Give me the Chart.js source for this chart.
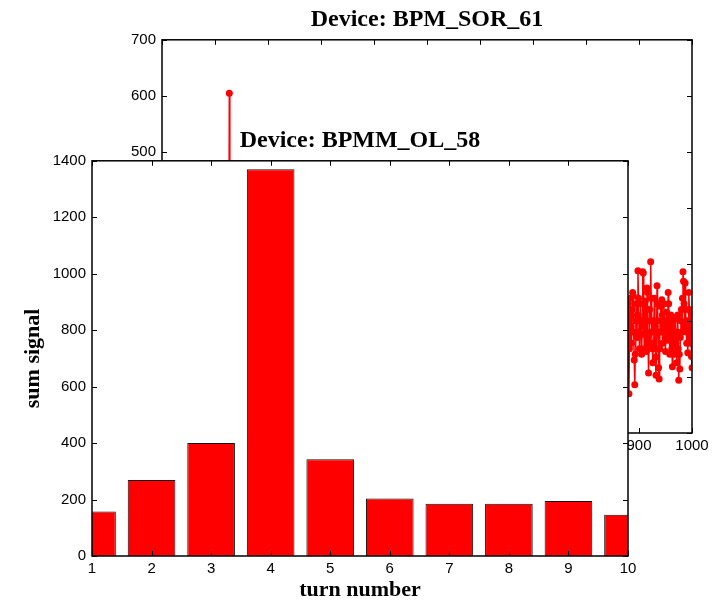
<!DOCTYPE html>
<html>
<head>
<meta charset="utf-8">
<title>sum signal</title>
<script src="https://cdn.jsdelivr.net/npm/chart.js@4.4.1/dist/chart.umd.min.js"></script>
<style>
  html, body { margin: 0; padding: 0; background: #fff; }
  #wrap { position: relative; width: 718px; height: 601px; }
  #wrap canvas { position: absolute; left: 0; top: 0; }
</style>
</head>
<body>
<div id="wrap">
  <canvas id="sor-chart" width="718" height="601"></canvas>
  <canvas id="ol-chart" width="718" height="601"></canvas>
</div>
<script>
// BPM_SOR_61: sum signal per turn (spike near turn 127 and the last turns)
var sorTurns = [126, 127, 128,
  879, 880, 881, 882, 883, 884, 885, 886, 887, 888, 889, 890,
  891, 892, 893, 894, 895, 896, 897, 898, 899, 900,
  901, 902, 903, 904, 905, 906, 907, 908, 909, 910,
  911, 912, 913, 914, 915, 916, 917, 918, 919, 920,
  921, 922, 923, 924, 925, 926, 927, 928, 929, 930,
  931, 932, 933, 934, 935, 936, 937, 938, 939, 940,
  941, 942, 943, 944, 945, 946, 947, 948, 949, 950,
  951, 952, 953, 954, 955, 956, 957, 958, 959, 960,
  961, 962, 963, 964, 965, 966, 967, 968, 969, 970,
  971, 972, 973, 974, 975, 976, 977, 978, 979, 980,
  981, 982, 983, 984, 985, 986, 987, 988, 989, 990,
  991, 992, 993, 994, 995, 996, 997, 998, 999, 1000];
var sorSignal = [230, 605, 210,
  180, 230, 70, 150, 210, 240, 190, 160, 220, 250, 245, 180,
  130, 86, 140, 200, 230, 170, 210, 289, 240, 180,
  150, 200, 230, 175, 140, 200, 287, 285, 190, 150,
  210, 235, 180, 145, 258, 250, 170, 107, 160, 220,
  200, 305, 240, 180, 150, 125, 160, 200, 240, 190,
  135, 103, 150, 262, 230, 180, 116, 96, 150, 200,
  225, 180, 237, 210, 160, 190, 230, 200, 170, 145,
  185, 215, 200, 165, 250, 230, 180, 140, 170, 210,
  190, 150, 118, 160, 200, 180, 140, 175, 205, 160,
  125, 180, 210, 150, 94, 140, 114, 170, 200, 220,
  180, 240, 287, 270, 230, 190, 267, 220, 180, 160,
  200, 143, 180, 250, 220, 170, 160, 214, 136, 116];

// BPMM_OL_58: first ten turns
var olTurns = [1, 2, 3, 4, 5, 6, 7, 8, 9, 10];
var olSignal = [158, 269, 400, 1370, 343, 204, 185, 185, 195, 146];

var tickFont = { family: 'Liberation Sans, Arial, sans-serif', size: 15 };
var titleFont = { family: 'Liberation Serif, Times New Roman, serif', size: 24, weight: 'bold', lineHeight: 1.2 };
var axisTitleFont = { family: 'Liberation Serif, Times New Roman, serif', size: 22, weight: 'bold', lineHeight: 1 };

function plainTick(value) { return String(value); }

// matlab style box: frame plus inward tick marks on all four sides
var boxTicks = {
  id: 'boxTicks',
  beforeDraw: function(chart, args, opts) {
    if (!opts.fill) return;
    var a = chart.chartArea, ctx = chart.ctx;
    ctx.save();
    ctx.fillStyle = opts.fill;
    ctx.fillRect(a.left, a.top, a.right - a.left, a.bottom - a.top);
    ctx.restore();
  },
  afterDatasetsDraw: function(chart, args, opts) {
    var ctx = chart.ctx, a = chart.chartArea;
    var xs = chart.scales.x, ys = chart.scales.y;
    var len = opts.length || 5;
    ctx.save();
    ctx.strokeStyle = '#000';
    ctx.lineWidth = 1;
    ctx.beginPath();
    xs.ticks.forEach(function(t) {
      var px = Math.round(xs.getPixelForValue(t.value)) + 0.5;
      ctx.moveTo(px, a.bottom); ctx.lineTo(px, a.bottom - len);
      ctx.moveTo(px, a.top); ctx.lineTo(px, a.top + len);
    });
    ys.ticks.forEach(function(t) {
      var py = Math.round(ys.getPixelForValue(t.value)) + 0.5;
      ctx.moveTo(a.left, py); ctx.lineTo(a.left + len, py);
      ctx.moveTo(a.right, py); ctx.lineTo(a.right - len, py);
    });
    ctx.stroke();
    ctx.lineWidth = 1.5;
    ctx.strokeRect(a.left, a.top, a.right - a.left, a.bottom - a.top);
    ctx.restore();
  }
};

var noGrid = { display: false, drawTicks: false, drawOnChartArea: false };

var sorChart = new Chart(document.getElementById('sor-chart').getContext('2d'), {
  type: 'line',
  data: {
    datasets: [{
      data: sorTurns.map(function(t, i) { return { x: t, y: sorSignal[i] }; }),
      borderColor: '#ff0000',
      borderWidth: 1.5,
      pointRadius: 3.5,
      pointBackgroundColor: '#ff0000',
      pointBorderWidth: 0,
      tension: 0
    }]
  },
  options: {
    responsive: false,
    animation: false,
    layout: { padding: { left: 0, right: 26, top: 0, bottom: 138 } },
    plugins: {
      legend: { display: false },
      tooltip: { enabled: false },
      title: {
        display: true, text: 'Device: BPM_SOR_61', color: '#000', font: titleFont,
        fullSize: false, padding: { top: 5, bottom: 6 }
      },
      boxTicks: { length: 5 }
    },
    scales: {
      x: {
        type: 'linear', min: 0, max: 1000,
        ticks: { stepSize: 100, color: '#000', font: tickFont, padding: 4, maxRotation: 0, callback: plainTick },
        grid: noGrid, border: { display: false },
        afterFit: function(s) { s.height = 30; }
      },
      y: {
        min: 0, max: 700,
        ticks: { stepSize: 100, color: '#000', font: tickFont, padding: 6, callback: plainTick },
        grid: noGrid, border: { display: false },
        afterFit: function(s) { s.width = 162; }
      }
    }
  },
  plugins: [boxTicks]
});

var olChart = new Chart(document.getElementById('ol-chart').getContext('2d'), {
  type: 'bar',
  data: {
    datasets: [{
      data: olTurns.map(function(t, i) { return { x: t, y: olSignal[i] }; }),
      backgroundColor: '#ff0000',
      borderColor: '#111',
      borderWidth: 1,
      borderSkipped: 'start',
      categoryPercentage: 0.8,
      barPercentage: 1,
      clip: 0
    }]
  },
  options: {
    responsive: false,
    animation: false,
    layout: { padding: { left: 0, right: 90, top: 0, bottom: 0 } },
    plugins: {
      legend: { display: false },
      tooltip: { enabled: false },
      title: {
        display: true, text: 'Device: BPMM_OL_58', color: '#000', font: titleFont,
        fullSize: false, padding: { top: 126, bottom: 6 }
      },
      boxTicks: { length: 5, fill: '#fff' }
    },
    scales: {
      x: {
        type: 'linear', min: 1, max: 10, offset: false,
        ticks: { stepSize: 1, color: '#000', font: tickFont, padding: 4, maxRotation: 0, callback: plainTick },
        grid: { display: false, drawTicks: false, drawOnChartArea: false, offset: false },
        border: { display: false },
        title: { display: true, text: 'turn number', color: '#000', font: axisTitleFont, padding: { top: 0, bottom: 0 } },
        afterFit: function(s) { s.height = 45; }
      },
      y: {
        min: 0, max: 1400,
        ticks: { stepSize: 200, color: '#000', font: tickFont, padding: 6, callback: plainTick },
        grid: noGrid, border: { display: false },
        title: { display: true, text: 'sum signal', color: '#000', font: axisTitleFont, padding: { top: 22, bottom: 0 } },
        afterFit: function(s) { s.width = 92; }
      }
    }
  },
  plugins: [boxTicks]
});
</script>
</body>
</html>
